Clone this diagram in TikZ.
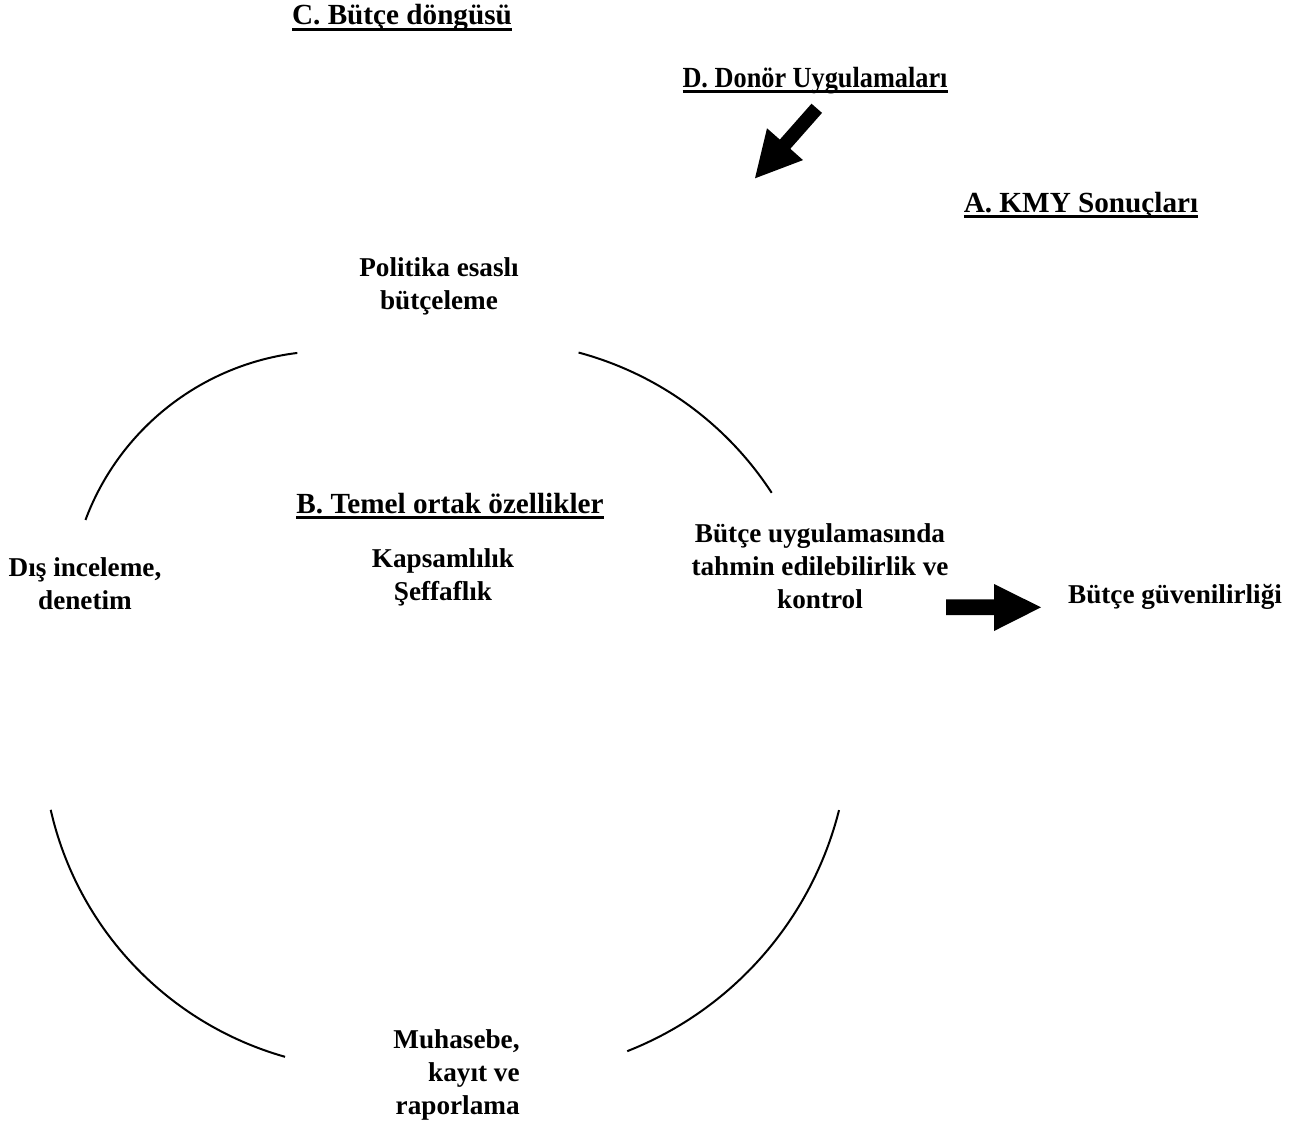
\documentclass[tikz,border=0pt]{standalone}
\usepackage{graphicx}
\usepackage{fontspec}
\setmainfont{Liberation Serif}
\newcommand{\hdline}[1]{\vtop{\hbox{\raisebox{0pt}[\height][0pt]{#1}}\kern1.6pt\hrule height 1.2pt}}
\begin{document}
\begin{tikzpicture}[x=0.5pt,y=-0.5pt,line join=bevel,
    lbl/.style={font=\fontsize{13.6}{16.6}\selectfont\bfseries,align=center,inner sep=0pt},
    hd/.style={font=\fontsize{14.6}{17}\selectfont\bfseries,inner sep=0pt,anchor=base},
    rim/.style={line width=1pt},
    blk/.style={fill=black}]
    %%
    \useasboundingbox (0,0) rectangle (1304,1124);
    \node (cycle) at (402,25) [hd] {\hdline{C. Bütçe döngüsü}};
    \node (donor) at (815,87) [hd] {\hdline{\scalebox{0.9}[1]{D. Donör Uygulamaları}}};
    \node (kmy) at (1081,212) [hd] {\hdline{A. KMY Sonuçları}};
    \node (ortak) at (450,513) [hd] {\hdline{B. Temel ortak özellikler}};
    \node (politika) at (439,286) [lbl] {Politika esaslı\\bütçeleme};
    \node (kapsam) at (443,577) [lbl] {Kapsamlılık\\Şeffaflık};
    \node (dis) at (85,584) [lbl] {Dış inceleme,\\denetim};
    \node (uygulama) at (820,566) [lbl] {Bütçe uygulamasında\\tahmin edilebilirlik ve\\kontrol};
    \node (guven) at (1175,597) [lbl] {Bütçe güvenilirliği};
    \node (muhasebe) at (520,1075) [lbl,anchor=east,align=right] {Muhasebe,\\kayıt ve\\raporlama};
    %
    \draw [rim] ([shift={(263:260)}]329,611) arc[start angle=263,end angle=200.5,radius=260];
    \draw [rim] ([shift={(285:333)}]492.4,674.2) arc[start angle=285,end angle=327,radius=333];
    \draw [rim] ([shift={(14.1:351)}]498.6,724.6) arc[start angle=14.1,end angle=68.5,radius=351];
    \draw [rim] ([shift={(167.2:333.4)}]375.8,736) arc[start angle=167.2,end angle=105.8,radius=333.4];
    %
    \fill [blk] (811.5,103.7) -- (822.0,112.9) -- (790.3,148.8) -- (803,160.1) -- (755,178.3) -- (767,128.3) -- (779.8,139.6) -- cycle;
    \fill [blk] (946,599.3) -- (994,599.3) -- (994,584) -- (1041,607.3) -- (994,631) -- (994,615) -- (946,615) -- cycle;
    %
\end{tikzpicture}
\end{document}
